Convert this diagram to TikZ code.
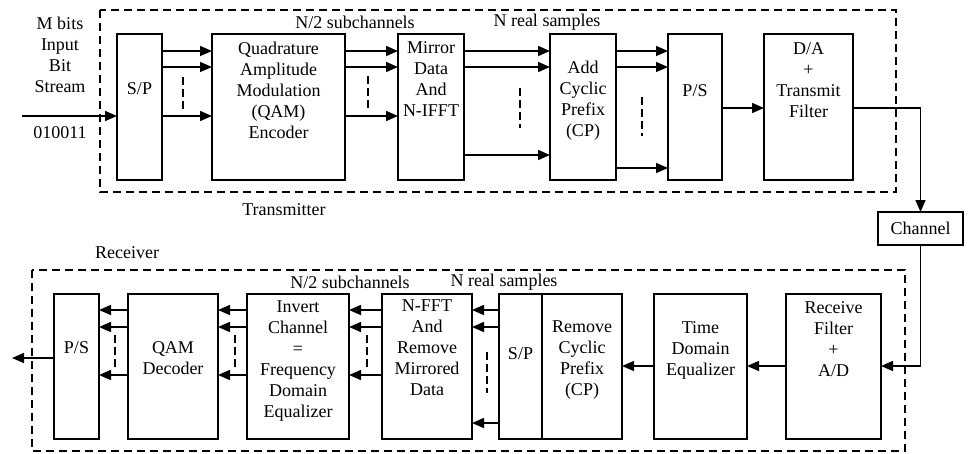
\documentclass[tikz,border=0pt]{standalone}
\usepackage{fontspec}
\setmainfont{Liberation Serif}
\usepackage{tikz}
\usetikzlibrary{arrows.meta, positioning}

\begin{document}
\begin{tikzpicture}[x=1pt, y=-1pt,
		every node/.style={font=\fontsize{18}{21}\selectfont},
		blk/.style={draw, line width=1.6pt, inner sep=0pt, outer sep=0pt},
		txt/.style={align=center, inner sep=0pt},
		arr/.style={line width=1.6pt, -{Triangle[length=12pt,width=10pt]}},
		frame/.style={line width=1.6pt, dash pattern=on 8pt off 5pt},
		vdots/.style={line width=1.6pt, dash pattern=on 8pt off 4pt}]
		
		\useasboundingbox (0,0) rectangle (969,453);
		
		%//transmitter
		\draw[frame] (100,10) rectangle (896,192);
		
		\node[blk, minimum width=45pt, minimum height=146pt] (sp) at (139.5,107) {};
		\node[blk, minimum width=133pt, minimum height=146pt] (qam) at (278.5,107) {};
		\node[blk, minimum width=66pt, minimum height=146pt] (mir) at (431,107) {};
		\node[blk, minimum width=66pt, minimum height=146pt] (acp) at (583,107) {};
		\node[blk, minimum width=54pt, minimum height=146pt] (ps) at (695,107) {};
		\node[blk, minimum width=89pt, minimum height=146pt] (da) at (808.5,107) {};
		
		\node[txt, below=48pt of sp.north] (sp-t) {S/P};
		\node[txt, below=8pt of qam.north] (qam-t) {Quadrature\\Amplitude\\Modulation\\(QAM)\\Encoder};
		\node[txt, below=7pt of mir.north] (mir-t) {Mirror\\Data\\And\\N-IFFT};
		\node[txt, below=27pt of acp.north] (acp-t) {Add\\Cyclic\\Prefix\\(CP)};
		\node[txt, below=50pt of ps.north] (ps-t) {P/S};
		\node[txt, below=8pt of da.north] (da-t) {D/A\\+\\Transmit\\Filter};
		
		\node[txt] (bits) at (60,55) {M bits\\Input\\Bit\\Stream};
		\node[txt] (word) at (60,133) {010011};
		\node (tx) at (284,210) {Transmitter};
		\node (sub1) at (355,22) {N/2 subchannels};
		\node (smp1) at (547,22) {N real samples};
		
		\coordinate (in) at (22,116);
		\draw[arr] (in) -- (sp.west |- in);
		
		\foreach \yy in {51,67,116}
		\draw[arr] (sp.east |- 0,\yy) -- (qam.west |- 0,\yy);
		\foreach \yy in {51,67,116}
		\draw[arr] (qam.east |- 0,\yy) -- (mir.west |- 0,\yy);
		\foreach \yy in {51,67,155}
		\draw[arr] (mir.east |- 0,\yy) -- (acp.west |- 0,\yy);
		\foreach \yy in {51,67,168}
		\draw[arr] (acp.east |- 0,\yy) -- (ps.west |- 0,\yy);
		\draw[arr] (ps.east |- 0,108) -- (da.west |- 0,108);
		
		\draw[vdots] (183,77) -- (183,110);
		\draw[vdots] (368,76) -- (368,108);
		\draw[vdots] (520,88) -- (520,128);
		\draw[vdots] (642,97) -- (642,136);
		
		%//channel
		\node[blk, minimum width=85pt, minimum height=33pt] (chan) at (920.5,228.5) {Channel};
		\draw[arr] (da.east |- 0,108) -| (chan.north);
		
		%//receiver
		\draw[frame] (32,270) rectangle (905,451);
		
		\node[blk, minimum width=95pt, minimum height=145pt] (rf) at (833.5,366.5) {};
		\node[blk, minimum width=93pt, minimum height=145pt] (tde) at (700.5,366.5) {};
		\node[blk, minimum width=80pt, minimum height=145pt] (rcp) at (582,366.5) {};
		\node[blk, minimum width=43pt, minimum height=145pt] (sp2) at (520.5,366.5) {};
		\node[blk, minimum width=90pt, minimum height=145pt] (fft) at (427,366.5) {};
		\node[blk, minimum width=102pt, minimum height=145pt] (inv) at (298,366.5) {};
		\node[blk, minimum width=90pt, minimum height=145pt] (dec) at (173,366.5) {};
		\node[blk, minimum width=45pt, minimum height=145pt] (ps2) at (76.5,366.5) {};
		
		\node[txt, below=7pt of rf.north] (rf-t) {Receive\\Filter\\+\\A/D};
		\node[txt, below=27pt of tde.north] (tde-t) {Time\\Domain\\Equalizer};
		\node[txt, below=27pt of rcp.north] (rcp-t) {Remove\\Cyclic\\Prefix\\(CP)};
		\node[txt, below=53pt of sp2.north] (sp2-t) {S/P};
		\node[txt, below=6pt of fft.north] (fft-t) {N-FFT\\And\\Remove\\Mirrored\\Data};
		\node[txt, below=7pt of inv.north] (inv-t) {Invert\\Channel\\=\\Frequency\\Domain\\Equalizer};
		\node[txt, below=47pt of dec.north] (dec-t) {QAM\\Decoder};
		\node[txt, below=47pt of ps2.north] (ps2-t) {P/S};
		
		\node (rx) at (127,253) {Receiver};
		\node (sub2) at (350,282) {N/2 subchannels};
		\node (smp2) at (504,282) {N real samples};
		
		\draw[arr] (chan.south) |- (rf.east |- 0,366);
		\draw[arr] (rf.west |- 0,366) -- (tde.east |- 0,366);
		\draw[arr] (tde.west |- 0,366) -- (rcp.east |- 0,366);
		
		\foreach \yy in {310,327,423}
		\draw[arr] (sp2.west |- 0,\yy) -- (fft.east |- 0,\yy);
		\foreach \yy in {310,327,375}
		\draw[arr] (fft.west |- 0,\yy) -- (inv.east |- 0,\yy);
		\foreach \yy in {310,327,375}
		\draw[arr] (inv.west |- 0,\yy) -- (dec.east |- 0,\yy);
		\foreach \yy in {310,327,375}
		\draw[arr] (dec.west |- 0,\yy) -- (ps2.east |- 0,\yy);
		
		\draw[vdots] (487,352) -- (487,393);
		\foreach \xx in {367,235,115}
		\draw[vdots] (\xx,335) -- (\xx,368);
		
		\coordinate (out) at (12,358);
		\draw[arr] (ps2.west |- out) -- (out);
		
	\end{tikzpicture}
\end{document}
